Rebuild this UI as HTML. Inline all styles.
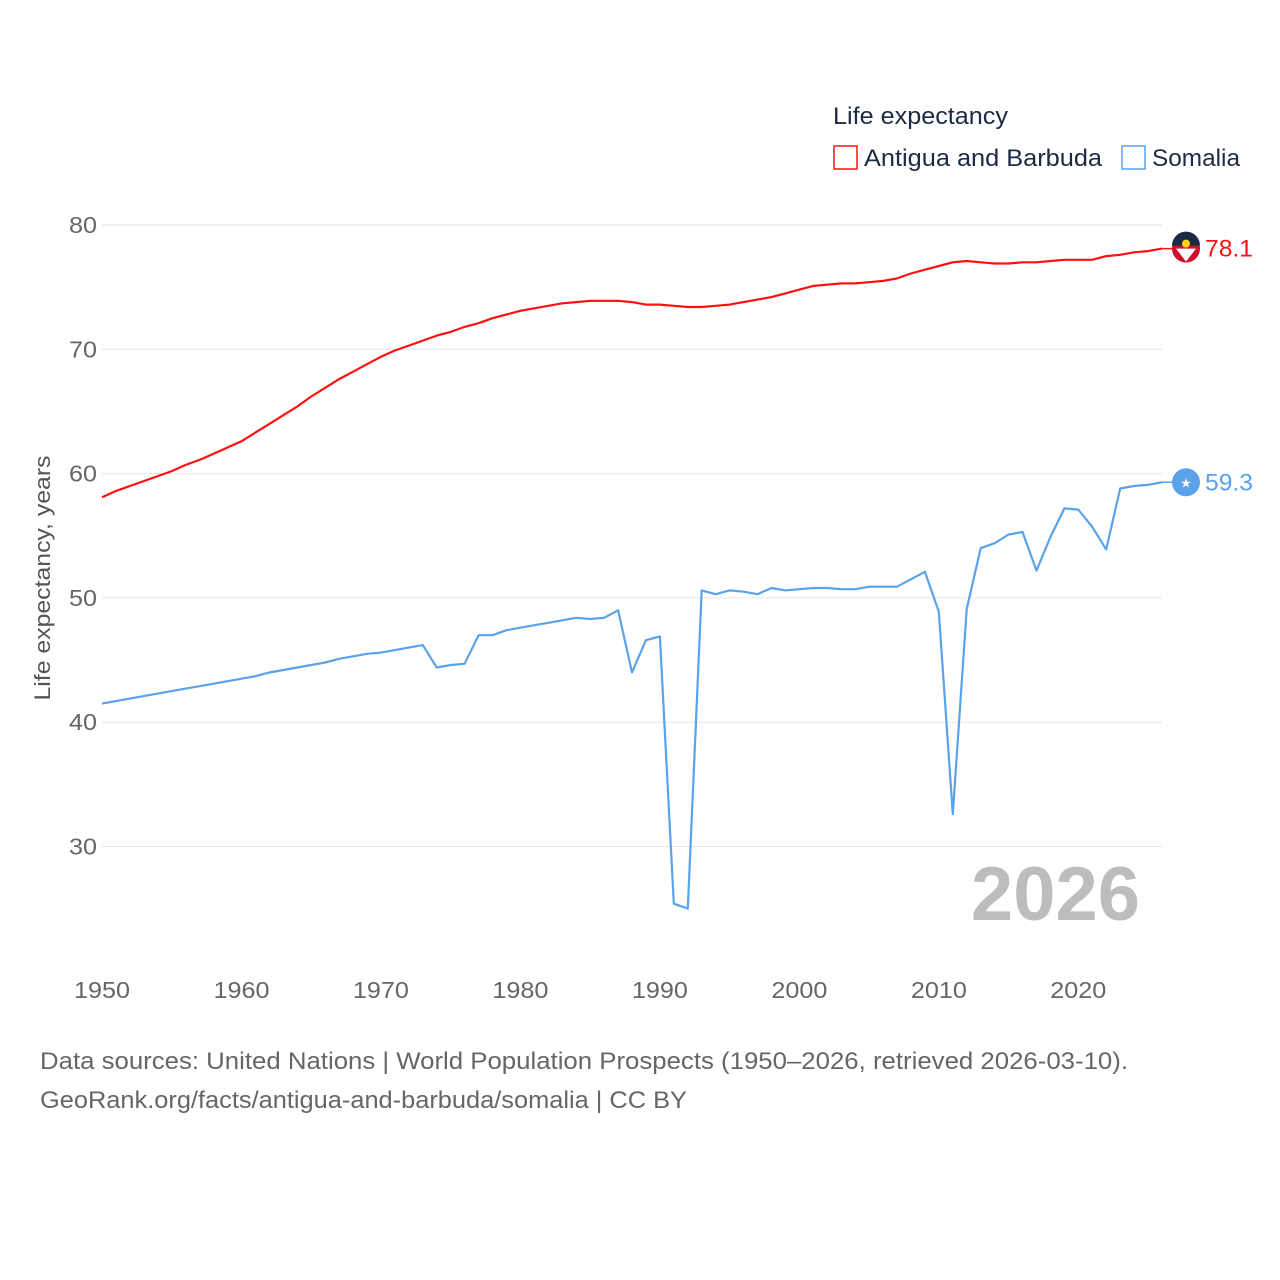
<!DOCTYPE html>
<html><head><meta charset="utf-8"><style>
body{margin:0;background:#fff;width:1280px;height:1280px;overflow:hidden;font-family:"Liberation Sans",sans-serif}
svg{position:absolute;left:0;top:0}
</style></head><body>
<svg id="chart" width="1280" height="1280" viewBox="0 0 1280 1280" font-family="Liberation Sans, sans-serif">
<text x="833" y="124" font-size="24" fill="#1d2a44" textLength="175" lengthAdjust="spacingAndGlyphs">Life expectancy</text>
<rect x="834" y="146" width="23" height="23" fill="none" stroke="#ff1010" stroke-width="1.5"/>
<text x="864" y="166" font-size="24" fill="#1d2a44" textLength="238" lengthAdjust="spacingAndGlyphs">Antigua and Barbuda</text>
<rect x="1122" y="146" width="23" height="23" fill="none" stroke="#5aa2ea" stroke-width="1.5"/>
<text x="1152" y="166" font-size="24" fill="#1d2a44" textLength="88" lengthAdjust="spacingAndGlyphs">Somalia</text>
<text transform="translate(50,578) rotate(-90)" text-anchor="middle" font-size="22" fill="#555" textLength="245" lengthAdjust="spacingAndGlyphs">Life expectancy, years</text>
<text x="1140" y="920" text-anchor="end" font-size="76" font-weight="bold" fill="#bdbdbd">2026</text>
<text x="40" y="1069" font-size="24" fill="#666" textLength="1088" lengthAdjust="spacingAndGlyphs">Data sources: United Nations | World Population Prospects (1950–2026, retrieved 2026-03-10).</text>
<text x="40" y="1108" font-size="24" fill="#666" textLength="647" lengthAdjust="spacingAndGlyphs">GeoRank.org/facts/antigua-and-barbuda/somalia | CC BY</text>
<g id="grid"></g><g id="series"></g>
</svg>
<script>
const years=[];for(let y=1950;y<=2026;y++)years.push(y);
const antigua=[58.1,58.6,59.0,59.4,59.8,60.2,60.7,61.1,61.6,62.1,62.6,63.3,64.0,64.7,65.4,66.2,66.9,67.6,68.2,68.8,69.4,69.9,70.3,70.7,71.1,71.4,71.8,72.1,72.5,72.8,73.1,73.3,73.5,73.7,73.8,73.9,73.9,73.9,73.8,73.6,73.6,73.5,73.4,73.4,73.5,73.6,73.8,74.0,74.2,74.5,74.8,75.1,75.2,75.3,75.3,75.4,75.5,75.7,76.1,76.4,76.7,77.0,77.1,77.0,76.9,76.9,77.0,77.0,77.1,77.2,77.2,77.2,77.5,77.6,77.8,77.9,78.1];
const somalia=[41.5,41.7,41.9,42.1,42.3,42.5,42.7,42.9,43.1,43.3,43.5,43.7,44.0,44.2,44.4,44.6,44.8,45.1,45.3,45.5,45.6,45.8,46.0,46.2,44.4,44.6,44.7,47.0,47.0,47.4,47.6,47.8,48.0,48.2,48.4,48.3,48.4,49.0,44.0,46.6,46.9,25.4,25.0,50.6,50.3,50.6,50.5,50.3,50.8,50.6,50.7,50.8,50.8,50.7,50.7,50.9,50.9,50.9,51.5,52.1,48.9,32.6,49.1,54.0,54.4,55.1,55.3,52.2,54.9,57.2,57.1,55.7,53.9,58.8,59.0,59.1,59.3];
const yTicks=[30,40,50,60,70,80];
const xTicks=[1950,1960,1970,1980,1990,2000,2010,2020];
const X=v=>102+(v-1950)*(1162-102)/76;
const Y=v=>225+(80-v)*12.43;
const NS="http://www.w3.org/2000/svg";
const grid=document.getElementById('grid'),ser=document.getElementById('series');
function mk(tag,attrs,parent){const e=document.createElementNS(NS,tag);for(const k in attrs)e.setAttribute(k,attrs[k]);parent.appendChild(e);return e;}
yTicks.forEach(t=>{
 const l=mk('line',{x1:102,x2:1162,y1:Y(t),y2:Y(t),stroke:'#e6e6e6','stroke-width':1},grid);
 
 
 const tx=mk('text',{x:97,y:Y(t)+8,'text-anchor':'end','font-size':23,fill:'#666',textLength:28,lengthAdjust:'spacingAndGlyphs'},grid);tx.textContent=t;
 
 
});
xTicks.forEach(t=>{
 const tx=mk('text',{x:X(t)-28,y:998,'font-size':23,fill:'#666',textLength:56,lengthAdjust:'spacingAndGlyphs'},grid);tx.textContent=t;
 
 
});
function line(data,color,name){
 const d=data.map((v,i)=>(i?'L':'M')+X(years[i]).toFixed(1)+','+Y(v).toFixed(1)).join('');
 const p=mk('path',{d:d,fill:'none',stroke:color,'stroke-width':2.2,'stroke-linejoin':'round'},ser);
 
 
 const last=data[data.length-1];
 const cx=X(years[years.length-1])+24,cy=Y(last);
 mk('line',{x1:X(2026),x2:cx,y1:cy,y2:cy,stroke:color,'stroke-width':1.5},ser);
 const c=mk('circle',{cx:cx,cy:cy,r:14,fill:color==='#ff1010'?'#ce1126':'#5aa2ea'},ser);
 
 
 const t=mk('text',{x:cx+19,y:cy+8,'font-size':24,fill:color,textLength:48,lengthAdjust:'spacingAndGlyphs'},ser);t.textContent=last.toFixed(1);
 
 
 return [cx,cy];
}
const a=line(antigua,'#ff1010','antigua');
mk('path',{d:`M${a[0]-14},${a[1]-3}A14,14 0 0 1 ${a[0]+14},${a[1]-3}Z`,fill:'#1a2a44'},ser);
mk('path',{d:`M${a[0]-10},${a[1]}L${a[0]+10},${a[1]}L${a[0]},${a[1]+13}Z`,fill:'#fff'},ser);
mk('circle',{cx:a[0],cy:a[1]-5,r:4,fill:'#fcd116'},ser);
const s=line(somalia,'#5aa2ea','somalia');
const st=mk('text',{x:s[0],y:s[1]+5,'text-anchor':'middle','font-size':13,fill:'#fff'},ser);st.textContent='★';
</script>
</body></html>
